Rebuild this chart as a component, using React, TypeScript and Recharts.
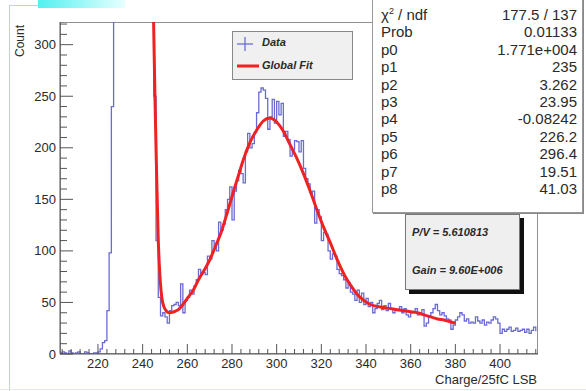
import { ComposedChart, Line, XAxis, YAxis, ReferenceArea } from 'recharts';

// histogram: one count per 1-unit bin, first bin starts at 203
const BIN_START = 203;
const OFF_SCALE = 999; // pedestal bins that run off the top of the frame
const counts = [
  1, 2, 1, 0, 3, 1, 0, 1, 2, 0, 0, 2, 1, 0, 0, 1, 1,
  2, 5, 11, 13, 42, 98, 240,
  OFF_SCALE, OFF_SCALE, OFF_SCALE, OFF_SCALE, OFF_SCALE, OFF_SCALE, OFF_SCALE, OFF_SCALE, OFF_SCALE,
  OFF_SCALE, OFF_SCALE, OFF_SCALE, OFF_SCALE, OFF_SCALE, OFF_SCALE, OFF_SCALE, OFF_SCALE, OFF_SCALE,
  250, 110, 55, 37, 40, 36, 30, 42, 47, 48, 50, 47, 68, 40, 52, 55, 62, 58, 66, 72,
  82, 78, 79, 77, 95, 92, 110, 104, 100, 128, 120, 126, 140, 150, 162, 130, 158, 168, 178, 175,
  166, 196, 214, 200, 204, 215, 234, 254, 258, 256, 248, 218, 230, 247, 224, 245, 232, 243, 211, 216,
  208, 192, 198, 207, 206, 196, 207, 180, 170, 165, 156, 158, 127, 140, 133, 110, 118, 116, 100, 92,
  97, 95, 82, 78, 76, 72, 64, 69, 60, 58, 52, 62, 50, 59, 48, 54, 46, 50, 40, 44,
  49, 52, 43, 47, 42, 49, 44, 40, 43, 42, 46, 40, 44, 38, 36, 40, 41, 44, 38, 40,
  43, 27, 30, 36, 40, 44, 48, 42, 38, 40, 37, 34, 33, 24, 28, 33, 36, 40, 38, 32,
  34, 30, 31, 30, 36, 32, 30, 33, 28, 31, 30, 33, 36, 34, 30, 20, 24, 22, 24, 26,
  22, 23, 25, 22, 23, 24, 21, 24, 20, 23, 26, 22,
];

// global fit curve
const fitX = [
  244.8, 245.5, 246.3, 247, 247.5, 248.5, 249.5, 250.5, 252, 254, 256, 258, 260, 262.7, 265, 268, 270,
  272.5, 275, 278, 281, 283, 285, 288, 291, 294, 297, 300, 303, 306, 309, 312, 315, 318, 321, 324,
  327, 330, 333, 336, 339, 342, 345, 348, 351, 354, 357, 360, 363, 366, 369, 372, 375, 378, 380,
];
const fitY = [
  335, 250, 170, 110, 85, 56, 46, 42, 40, 41, 43, 48, 54, 62, 72, 83, 91,
  104, 117, 138, 160, 174, 188, 205, 217, 226, 229, 225, 216, 203, 190, 175, 158, 140, 123, 108,
  92, 78, 67, 58, 52, 48, 46, 45, 44, 43, 42, 41, 40, 38, 36, 34, 33, 31, 30,
];

const X_DOMAIN = [203, 417];
const Y_DOMAIN = [0, 322];
const xTicks = [
  204, 208, 212, 216, 220, 224, 228, 232, 236, 240, 244, 248, 252, 256, 260, 264, 268, 272, 276, 280,
  284, 288, 292, 296, 300, 304, 308, 312, 316, 320, 324, 328, 332, 336, 340, 344, 348, 352, 356, 360,
  364, 368, 372, 376, 380, 384, 388, 392, 396, 400, 404, 408, 412, 416,
];
const yTicks = [0, 10, 20, 30, 40, 50, 60, 70, 80, 90, 100, 110, 120, 130, 140, 150, 160, 170, 180, 190,
  200, 210, 220, 230, 240, 250, 260, 270, 280, 290, 300, 310, 320];

const statNames = ['p0', 'p1', 'p2', 'p3', 'p4', 'p5', 'p6', 'p7', 'p8'];
const statValues = ['1.771e+004', '235', '3.262', '23.95', '-0.08242', '226.2', '296.4', '19.51', '41.03'];

const histData = counts.map((c, i) => ({ x: BIN_START + i, y: c }));
const fitData = fitX.map((x, i) => ({ x, y: fitY[i] }));

const FONT = '"Liberation Sans", Arial, Helvetica, sans-serif';
const TEXT = '#2a2a2a';
const AXIS = '#555';
const BLUE = '#6b6bd6';
const RED = '#ee2222';

function XTick(props: any) {
  const { x, y, payload } = props;
  const major = payload.value % 20 === 0;
  return (
    <g>
      <line x1={x} x2={x} y1={y} y2={y - (major ? 10 : 5)} stroke={AXIS} />
      {major && (
        <text x={x} y={y + 14} textAnchor="middle" fontSize={13} fill={TEXT} fontFamily={FONT}>
          {payload.value}
        </text>
      )}
    </g>
  );
}

function YTick(props: any) {
  const { x, y, payload } = props;
  const major = payload.value % 50 === 0;
  return (
    <g>
      <line x1={x} x2={x + (major ? 13 : 7)} y1={y} y2={y} stroke={AXIS} />
      {major && (
        <text x={x - 4} y={y + 4.5} textAnchor="end" fontSize={13} fill={TEXT} fontFamily={FONT}>
          {payload.value}
        </text>
      )}
    </g>
  );
}

const boxText = { fontSize: 11, fontWeight: 700, fontStyle: 'italic' as const, color: TEXT, fontFamily: FONT, position: 'absolute' as const, whiteSpace: 'nowrap' as const };

function FitLegend() {
  return (
    <div style={{ position: 'absolute', left: 232, top: 31, width: 119, height: 47, background: '#f0f0f0', border: '1px solid #888' }}>
      <svg width={30} height={47} style={{ position: 'absolute', left: 0, top: 0 }}>
        <line x1={4} x2={20} y1={12} y2={12} stroke={BLUE} strokeWidth={1.3} />
        <line x1={12} x2={12} y1={5} y2={19} stroke={BLUE} strokeWidth={1.3} />
        <line x1={4} x2={26} y1={34} y2={34} stroke={RED} strokeWidth={3} />
      </svg>
      <span style={{ ...boxText, left: 29, top: 4 }}>Data</span>
      <span style={{ ...boxText, left: 29, top: 27 }}>Global Fit</span>
    </div>
  );
}

export default function App() {
  const rowStyle = { display: 'flex', justifyContent: 'space-between', height: 17.4, lineHeight: '17.4px' };
  return (
    <div style={{ position: 'absolute', left: 0, top: 0, width: 586, height: 391, background: '#fff', overflow: 'hidden', fontFamily: FONT }}>
      {/* screenshot edges */}
      <div style={{ position: 'absolute', left: 9, top: 5, width: 1, height: 386, background: '#c8c8f4' }} />
      <div style={{ position: 'absolute', left: 9, top: 5, width: 30, height: 1, background: '#c8c8f4' }} />
      <div style={{ position: 'absolute', left: 38, top: 0, width: 87, height: 8, background: 'linear-gradient(90deg, #52f0f0, #e8ffff)' }} />
      <div style={{ position: 'absolute', left: 483, top: 0, width: 85, height: 7, background: 'linear-gradient(90deg, #ffffff, #52f0f0)' }} />
      <div style={{ position: 'absolute', left: 0, top: 389, width: 586, height: 1, background: '#e4e4f4' }} />

      <ComposedChart width={586} height={391} margin={{ top: 22, right: 48, left: 0, bottom: 0 }} style={{ position: 'absolute', left: 0, top: 0 }}>
        <XAxis
          dataKey="x"
          type="number"
          domain={X_DOMAIN}
          allowDataOverflow
          ticks={xTicks}
          interval={0}
          tick={<XTick />}
          tickLine={false}
          tickSize={0}
          tickMargin={0}
          height={37}
          stroke={AXIS}
        />
        <YAxis
          type="number"
          domain={Y_DOMAIN}
          allowDataOverflow
          ticks={yTicks}
          interval={0}
          tick={<YTick />}
          tickLine={false}
          tickSize={0}
          tickMargin={0}
          width={60}
          stroke={AXIS}
        />
        <ReferenceArea x1={X_DOMAIN[0]} x2={X_DOMAIN[1]} y1={Y_DOMAIN[0]} y2={Y_DOMAIN[1]} fill="none" stroke="#6e6e6e" strokeWidth={1.5} ifOverflow="hidden" />
        <Line data={histData} dataKey="y" type="stepAfter" stroke={BLUE} strokeWidth={1.3} dot={false} isAnimationActive={false} name="Data" />
        <Line data={fitData} dataKey="y" type="monotone" stroke={RED} strokeWidth={3} dot={false} isAnimationActive={false} name="Global Fit" />
      </ComposedChart>

      <FitLegend />

      {/* axis titles */}
      <div style={{ position: 'absolute', left: 12, top: 22, width: 16, height: 38, display: 'flex', alignItems: 'center', justifyContent: 'center' }}>
        <span style={{ transform: 'rotate(-90deg)', fontSize: 12, color: TEXT, whiteSpace: 'nowrap' }}>Count</span>
      </div>
      <div style={{ position: 'absolute', right: 49, top: 372, fontSize: 13, color: TEXT, whiteSpace: 'nowrap' }}>Charge/25fC LSB</div>

      {/* fit statistics box */}
      <div style={{ position: 'absolute', left: 372, top: -1, width: 196, height: 206, background: '#fff', border: '1px solid #999', boxShadow: '1px 1px 0 #888', padding: '6px 5px 0 8px', fontSize: 15, color: TEXT }}>
        <div style={rowStyle}><span>χ<sup style={{ fontSize: 9, lineHeight: 0 }}>2</sup> / ndf</span><span>177.5 / 137</span></div>
        <div style={rowStyle}><span>Prob</span><span>0.01133</span></div>
        {statNames.map((n, i) => (
          <div key={n} style={rowStyle}><span>{n}</span><span>{statValues[i]}</span></div>
        ))}
      </div>

      {/* P/V box */}
      <div style={{ position: 'absolute', left: 405, top: 214, width: 113, height: 74, background: '#efefef', border: '1px solid #777', boxShadow: '4px 4px 0 #111' }}>
        <span style={{ ...boxText, left: 6, top: 11 }}>P/V = 5.610813</span>
        <span style={{ ...boxText, left: 6, top: 49 }}>Gain = 9.60E+006</span>
      </div>
    </div>
  );
}
